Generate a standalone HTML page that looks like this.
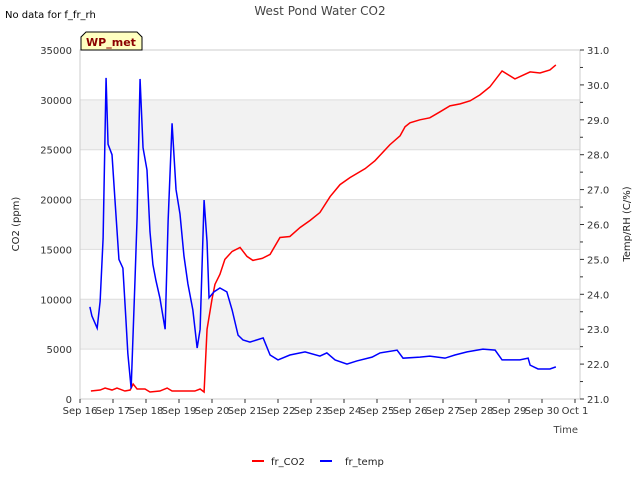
<!DOCTYPE html>
<html><head><meta charset="utf-8"><style>
body{margin:0;background:#fff;font-family:"Liberation Sans","DejaVu Sans",sans-serif}
svg text{font-family:"DejaVu Sans","Liberation Sans",sans-serif}
</style></head><body>
<svg id="c" width="640" height="480" viewBox="0 0 640 480" xmlns="http://www.w3.org/2000/svg">
<text x="5" y="18" font-size="10" fill="#000">No data for f_fr_rh</text>
<text x="320" y="15" font-size="12" fill="#444" text-anchor="middle">West Pond Water CO2</text>
<g id="bands"></g>
<g id="grid"></g>
<rect x="80" y="50" width="500" height="349" fill="none" stroke="#ccc"/>
<g id="ax"></g>
<g id="series"></g>
<g>
<path d="M81,50 L81,37 L86,32 L137,32 L142,37 L142,50 Z" fill="#ffffc0" stroke="#000"/>
<text x="111" y="46" font-size="11" font-weight="bold" fill="#8b0000" text-anchor="middle">WP_met</text></g>
<text x="19" y="224" font-size="10" fill="#222" text-anchor="middle" transform="rotate(-90 19 224)">CO2 (ppm)</text>
<text x="630" y="224" font-size="10" fill="#222" text-anchor="middle" transform="rotate(-90 630 224)">Temp/RH (C/%)</text>
<text x="578" y="433" font-size="10" fill="#444" text-anchor="end">Time</text>
<g>
<line x1="252" y1="461" x2="264" y2="461" stroke="#f00" stroke-width="2"/>
<text x="271" y="465" font-size="10" fill="#222">fr_CO2</text>
<line x1="320" y1="461" x2="332" y2="461" stroke="#00f" stroke-width="2"/>
<text x="345" y="465" font-size="10" fill="#222">fr_temp</text>
</g>
</svg>
<script>
const xTickLabels=["Sep 16","Sep 17","Sep 18","Sep 19","Sep 20","Sep 21","Sep 22","Sep 23","Sep 24","Sep 25","Sep 26","Sep 27","Sep 28","Sep 29","Sep 30","Oct 1"];
const leftTicks=[0,5000,10000,15000,20000,25000,30000,35000];
const rightTicks=[21,22,23,24,25,26,27,28,29,30,31];
const co2Days=[0.33,0.61,0.76,0.97,1.12,1.36,1.52,1.61,1.73,1.97,2.12,2.42,2.64,2.79,3.03,3.48,3.64,3.76,3.85,4.0,4.09,4.24,4.39,4.61,4.85,5.06,5.24,5.52,5.76,6.06,6.36,6.67,6.97,7.27,7.58,7.88,8.18,8.64,8.94,9.39,9.70,9.85,10.0,10.3,10.6,10.91,11.21,11.52,11.82,12.12,12.42,12.79,13.18,13.64,13.94,14.24,14.42];
const co2Vals=[800,900,1100,900,1100,800,900,1500,1000,1000,700,800,1100,800,800,800,1000,700,7000,10000,11500,12500,14000,14800,15200,14300,13900,14100,14500,16200,16300,17200,17900,18700,20300,21500,22200,23100,23900,25500,26400,27300,27700,28000,28200,28800,29400,29600,29900,30500,31300,32900,32100,32800,32700,33000,33500];
const tempDays=[0.30,0.36,0.52,0.61,0.70,0.79,0.85,0.97,1.06,1.18,1.30,1.39,1.45,1.55,1.67,1.73,1.82,1.91,2.03,2.12,2.21,2.30,2.42,2.58,2.67,2.79,2.91,3.03,3.15,3.27,3.42,3.55,3.64,3.76,3.85,3.91,4.06,4.24,4.45,4.61,4.79,4.94,5.15,5.55,5.76,6.0,6.36,6.82,7.27,7.48,7.73,8.09,8.39,8.85,9.09,9.61,9.79,10.3,10.6,11.06,11.36,11.73,12.21,12.58,12.79,13.33,13.58,13.64,13.88,14.24,14.42];
const tempVals=[23.64,23.38,23.03,23.8,25.6,30.2,28.3,28.0,26.7,25.0,24.75,23.3,22.3,21.3,24.5,26.2,30.17,28.2,27.56,25.8,24.85,24.4,23.9,23.0,26.1,28.9,27.0,26.3,25.1,24.3,23.55,22.46,23.0,26.7,25.5,23.9,24.07,24.18,24.07,23.55,22.83,22.69,22.63,22.75,22.26,22.12,22.26,22.35,22.23,22.32,22.12,22.0,22.09,22.2,22.32,22.4,22.17,22.2,22.23,22.17,22.26,22.35,22.43,22.4,22.12,22.12,22.17,21.97,21.86,21.86,21.92];
const NS="http://www.w3.org/2000/svg";
const L=80,R=580,T=50,B=399,DAY=33;
const xS=d=>L+d*DAY;
const yL=v=>B-(v/35000)*(B-T);
const yR=v=>B-((v-21)/10)*(B-T);
function mk(tag,attrs,parent){const e=document.createElementNS(NS,tag);for(const k in attrs)e.setAttribute(k,attrs[k]);parent.appendChild(e);return e;}
const bands=document.getElementById('bands'),grid=document.getElementById('grid'),ax=document.getElementById('ax'),series=document.getElementById('series');
[[5000,10000],[15000,20000],[25000,30000]].forEach(b=>{const r=mk('rect',{x:L,y:yL(b[1]),width:R-L,height:yL(b[0])-yL(b[1]),fill:'#f2f2f2'},bands);

});
leftTicks.forEach(v=>{const y=yL(v);
if(v>0&&v<35000){const g=mk('line',{x1:L,x2:R,y1:y,y2:y,stroke:'#ddd'},grid);

}
const t=mk('text',{x:72,y:y+4,'font-size':10,fill:'#333','text-anchor':'end'},ax);t.textContent=v;

});
rightTicks.forEach(v=>{const y=yR(v);
mk('line',{x1:R,x2:R+4,y1:y,y2:y,stroke:'#333'},ax);
if(v<31)mk('line',{x1:R,x2:R+3,y1:yR(v+0.5),y2:yR(v+0.5),stroke:'#333'},ax);
const t=mk('text',{x:587,y:y+4,'font-size':10,fill:'#333'},ax);t.textContent=v.toFixed(1);

});
xTickLabels.forEach((s,i)=>{const x=xS(i);
mk('line',{x1:x,x2:x,y1:B,y2:B+4,stroke:'#333'},ax);
const t=mk('text',{x:x,y:414,'font-size':10,fill:'#333','text-anchor':'middle'},ax);t.textContent=s;

});
const p1=mk('polyline',{points:co2Days.map((d,i)=>xS(d)+','+yL(co2Vals[i])).join(' '),fill:'none',stroke:'#f00','stroke-width':1.5},series);


const p2=mk('polyline',{points:tempDays.map((d,i)=>xS(d)+','+yR(tempVals[i])).join(' '),fill:'none',stroke:'#00f','stroke-width':1.5},series);


</script>
</body></html>
